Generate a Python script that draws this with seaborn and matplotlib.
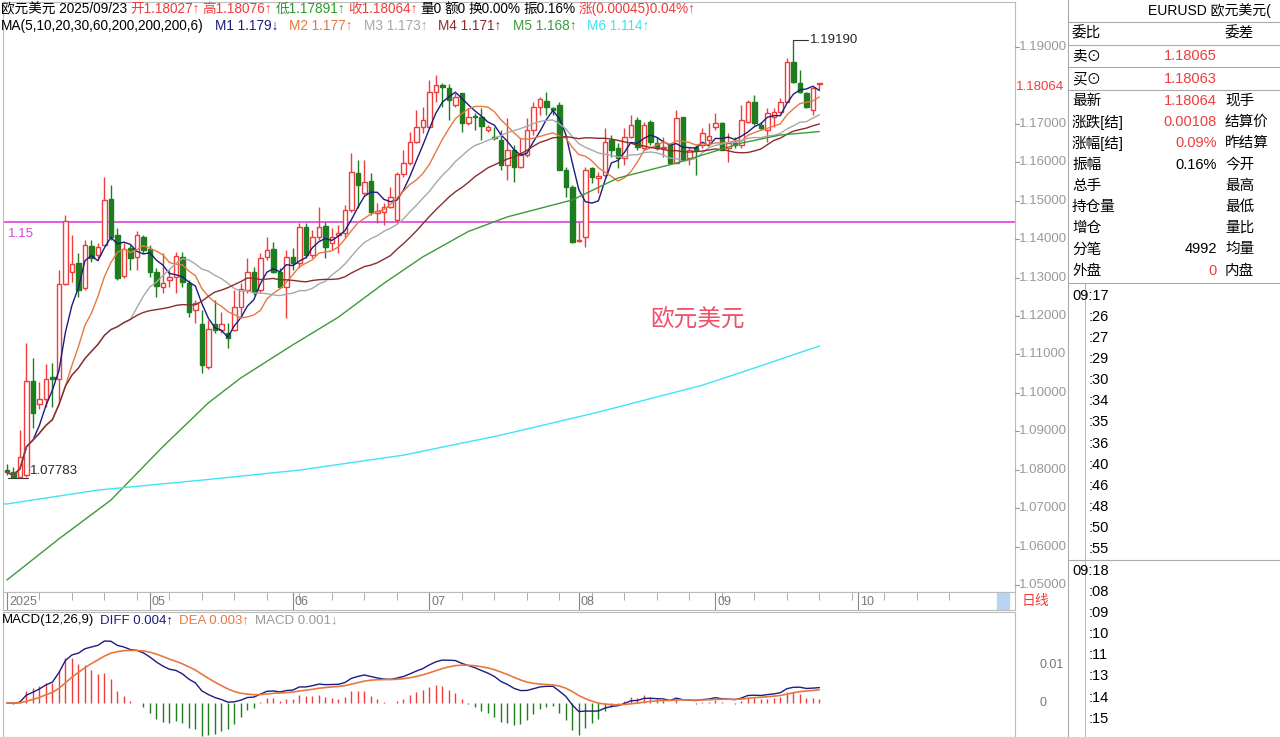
import numpy as np
import pandas as pd
import matplotlib
matplotlib.use("Agg")
import matplotlib.pyplot as plt
import seaborn as sns

sns.set_style("white")
plt.rcParams['font.family'] = ['Liberation Sans', 'Noto Sans CJK SC', 'DejaVu Sans']

# daily candles, 2025-04-01 .. 2025-09-23
opens = [1.0800, 1.0794, 1.0780, 1.0786, 1.1031, 1.0972, 1.0985, 1.1040, 1.1035, 1.1284,
         1.1315, 1.1338, 1.1273, 1.1382, 1.1359, 1.1385, 1.1504, 1.1411, 1.1304, 1.1377,
         1.1354, 1.1406, 1.1374, 1.1315, 1.1276, 1.1294, 1.1302, 1.1354, 1.1286, 1.1216,
         1.1179, 1.1067, 1.1180, 1.1164, 1.1155, 1.1164, 1.1223, 1.1268, 1.1315, 1.1268,
         1.1354, 1.1374, 1.1315, 1.1276, 1.1354, 1.1338, 1.1432, 1.1359, 1.1406, 1.1434,
         1.1390, 1.1411, 1.1416, 1.1476, 1.1572, 1.1520, 1.1551, 1.1469, 1.1471, 1.1484,
         1.1450, 1.1570, 1.1598, 1.1653, 1.1692, 1.1692, 1.1783, 1.1801, 1.1793, 1.1749,
         1.1780, 1.1702, 1.1720, 1.1718, 1.1684, 1.1665, 1.1658, 1.1593, 1.1632, 1.1588,
         1.1619, 1.1684, 1.1744, 1.1760, 1.1740, 1.1749, 1.1580, 1.1536, 1.1395, 1.1406,
         1.1585, 1.1560, 1.1567, 1.1658, 1.1637, 1.1611, 1.1666, 1.1710, 1.1637, 1.1705,
         1.1650, 1.1637, 1.1645, 1.1598, 1.1718, 1.1611, 1.1640, 1.1645, 1.1658, 1.1692,
         1.1702, 1.1637, 1.1650, 1.1645, 1.1705, 1.1757, 1.1697, 1.1684, 1.1718, 1.1731,
         1.1757, 1.1861, 1.1806, 1.1780, 1.1736, 1.18027]
closes = [1.0793, 1.0780, 1.0833, 1.1031, 1.0948, 1.0985, 1.1037, 1.1035, 1.1282, 1.1448,
          1.1335, 1.1268, 1.1385, 1.1351, 1.1380, 1.1502, 1.1406, 1.1299, 1.1374, 1.1351,
          1.1411, 1.1372, 1.1315, 1.1278, 1.1286, 1.1302, 1.1356, 1.1288, 1.1210, 1.1234,
          1.1073, 1.1166, 1.1164, 1.1178, 1.1143, 1.1223, 1.1270, 1.1315, 1.1262, 1.1351,
          1.1372, 1.1315, 1.1276, 1.1354, 1.1338, 1.1432, 1.1359, 1.1406, 1.1432, 1.1380,
          1.1406, 1.1416, 1.1476, 1.1575, 1.1541, 1.1549, 1.1471, 1.1473, 1.1484, 1.1510,
          1.1570, 1.1598, 1.1653, 1.1692, 1.1710, 1.1783, 1.1801, 1.1796, 1.1762, 1.1770,
          1.1702, 1.1718, 1.1718, 1.1694, 1.1692, 1.1662, 1.1593, 1.1632, 1.1588, 1.1619,
          1.1684, 1.1744, 1.1765, 1.1744, 1.1736, 1.1580, 1.1536, 1.1393, 1.1398, 1.1580,
          1.1562, 1.1565, 1.1653, 1.1632, 1.1611, 1.1666, 1.1697, 1.1640, 1.1697, 1.1653,
          1.1637, 1.1640, 1.1598, 1.1715, 1.1606, 1.1632, 1.1632, 1.1676, 1.1668, 1.1702,
          1.1632, 1.1650, 1.1645, 1.1710, 1.1757, 1.1702, 1.1689, 1.1728, 1.1731, 1.1757,
          1.1861, 1.1809, 1.1783, 1.1744, 1.1793, 1.18064]
highs = [1.0815, 1.0806, 1.0903, 1.1130, 1.1091, 1.1028, 1.1074, 1.1078, 1.1321, 1.1463,
         1.1411, 1.1364, 1.1398, 1.1398, 1.1390, 1.1562, 1.1541, 1.1429, 1.1390, 1.1385,
         1.1420, 1.1411, 1.1385, 1.1325, 1.1364, 1.1320, 1.1367, 1.1367, 1.1294, 1.1242,
         1.1216, 1.1190, 1.1242, 1.1211, 1.1182, 1.1268, 1.1286, 1.1351, 1.1328, 1.1364,
         1.1406, 1.1393, 1.1325, 1.1372, 1.1377, 1.1442, 1.1442, 1.1424, 1.1484, 1.1445,
         1.1429, 1.1437, 1.1489, 1.1624, 1.1606, 1.1606, 1.1572, 1.1494, 1.1494, 1.1536,
         1.1575, 1.1632, 1.1679, 1.1736, 1.1744, 1.1814, 1.1827, 1.1806, 1.1804, 1.1780,
         1.1780, 1.1741, 1.1728, 1.1741, 1.1697, 1.1692, 1.1684, 1.1715, 1.1645, 1.1663,
         1.1715, 1.1757, 1.1770, 1.1783, 1.1744, 1.1757, 1.1588, 1.1541, 1.1445, 1.1588,
         1.1588, 1.1575, 1.1689, 1.1671, 1.1650, 1.1689, 1.1723, 1.1718, 1.1705, 1.1710,
         1.1666, 1.1666, 1.1650, 1.1736, 1.1718, 1.1640, 1.1645, 1.1689, 1.1702, 1.1728,
         1.1705, 1.1676, 1.1666, 1.1749, 1.1762, 1.1775, 1.1705, 1.1741, 1.1741, 1.1767,
         1.1871, 1.19190, 1.1840, 1.1783, 1.1796, 1.18076]
lows = [1.0786, 1.07783, 1.0785, 1.0780, 1.0909, 1.0959, 1.0962, 1.0964, 1.0977, 1.1280,
        1.1288, 1.1249, 1.1268, 1.1341, 1.1350, 1.1385, 1.1398, 1.1294, 1.1299, 1.1320,
        1.1320, 1.1364, 1.1302, 1.1249, 1.1260, 1.1276, 1.1260, 1.1276, 1.1197, 1.1182,
        1.1052, 1.1062, 1.1156, 1.1156, 1.1117, 1.1160, 1.1197, 1.1260, 1.1255, 1.1260,
        1.1346, 1.1312, 1.1273, 1.1195, 1.1320, 1.1325, 1.1351, 1.1351, 1.1398, 1.1351,
        1.1372, 1.1364, 1.1403, 1.1471, 1.1481, 1.1515, 1.1463, 1.1442, 1.1437, 1.1481,
        1.1442, 1.1562, 1.1593, 1.1650, 1.1676, 1.1689, 1.1757, 1.1744, 1.1710, 1.1744,
        1.1679, 1.1697, 1.1684, 1.1658, 1.1679, 1.1658, 1.1580, 1.1554, 1.1549, 1.1585,
        1.1614, 1.1671, 1.1723, 1.1723, 1.1723, 1.1580, 1.1510, 1.1390, 1.1393, 1.1380,
        1.1546, 1.1520, 1.1562, 1.1614, 1.1585, 1.1593, 1.1663, 1.1632, 1.1632, 1.1645,
        1.1632, 1.1614, 1.1598, 1.1598, 1.1606, 1.1593, 1.1567, 1.1637, 1.1645, 1.1684,
        1.1632, 1.1601, 1.1637, 1.1637, 1.1702, 1.1697, 1.1684, 1.1653, 1.1692, 1.1728,
        1.1757, 1.1806, 1.1780, 1.1741, 1.1723, 1.17891]

# long moving averages at a few candles
ma60_idx = [0, 8, 16, 24, 31, 36, 44, 51, 58, 64, 71, 77, 87, 94, 103, 113, 119, 125]
ma60_val = [1.0513, 1.0620, 1.0721, 1.0860, 1.0974, 1.1039, 1.1125, 1.1197, 1.1285,
            1.1354, 1.1420, 1.1458, 1.1502, 1.1559, 1.1598, 1.1650, 1.1671, 1.1680]
ma200_idx = [0, 14, 30, 45, 61, 76, 91, 107, 114, 125]
ma200_val = [1.0711, 1.0747, 1.0773, 1.0799, 1.0838, 1.0890, 1.0950, 1.1020, 1.1059, 1.1122]

month_idx = [0, 22, 44, 65, 88, 109, 131]
month_labels = ['2025', '05', '06', '07', '08', '09', '10']
price_ticks = [1.19, 1.17, 1.16, 1.15, 1.14, 1.13, 1.12, 1.11, 1.10,
               1.09, 1.08, 1.07, 1.06, 1.05]

RED = '#f03c3c'
GREEN = '#1e7d1e'
MA_COLORS = ['#1c1c80', '#e87840', '#a8a8a8', '#8b2c2c', '#3c9a3c', '#40e4f4']

W, H = 1280, 737
fig = plt.figure(figsize=(12.8, 7.37), dpi=100)
renderer = fig.canvas.get_renderer()


def fx(x):
    return x / W


def fy(y):
    return 1 - y / H


def txt(x, y, s, color='black', size=9.5, ha='left', **kw):
    return fig.text(fx(x), fy(y), s, color=color, fontsize=size, ha=ha, va='center', **kw)


def txt_row(x, y, parts, size=9, gap=4):
    # write coloured pieces one after another
    for s, c in parts:
        t = txt(x, y, s, color=c, size=size)
        x += t.get_window_extent(renderer).width + gap


df = pd.DataFrame({'open': opens, 'close': closes, 'high': highs, 'low': lows})
df['idx'] = np.arange(len(df))
for n in [5, 10, 20, 30]:
    df[f'ma{n}'] = df['close'].rolling(n, min_periods=1).mean()

# ---------- price panel ----------
ax = fig.add_axes([fx(3), fy(592), fx(1012), (592 - 2) / H])
px_per = 3843.0
ax.set_ylim(1.19 - (592 - 47) / px_per, 1.19 + 45 / px_per)
ax.set_xlim(-0.6, 155.1)

up = df['close'] >= df['open']
ax.vlines(df['idx'], df['low'], df['high'], color=np.where(up, RED, GREEN), lw=1, zorder=2)
body_lo = df[['open', 'close']].min(axis=1)
body_h = (df['close'] - df['open']).abs().clip(lower=0.00012)
ax.bar(df['idx'][up], body_h[up], bottom=body_lo[up], width=0.68,
       facecolor='white', edgecolor=RED, lw=1, zorder=3)
ax.bar(df['idx'][~up], body_h[~up], bottom=body_lo[~up], width=0.68,
       facecolor=GREEN, edgecolor=GREEN, lw=1, zorder=3)

for n, c in zip([5, 10, 20, 30], MA_COLORS[:4]):
    sns.lineplot(data=df, x='idx', y=f'ma{n}', ax=ax, color=c, lw=1, zorder=4)
sns.lineplot(x=ma60_idx, y=ma60_val, ax=ax, color=MA_COLORS[4], lw=1, zorder=4)
sns.lineplot(x=[-0.6] + ma200_idx, y=[ma200_val[0]] + ma200_val, ax=ax,
             color=MA_COLORS[5], lw=1, zorder=4)

ax.axhline(1.1445, color='#e040e0', lw=1.2, zorder=1)
ax.text(0.2, 1.1430, '1.15', color='#e040e0', fontsize=9.5, va='top')

hi_i = int(np.argmax(highs))
ax.plot([hi_i, hi_i, hi_i + 2.2], [highs[hi_i], max(highs), max(highs)], color='#333', lw=0.8)
ax.text(hi_i + 2.6, max(highs), '1.19190', fontsize=9.5, va='center')
lo_i = int(np.argmin(lows))
ax.plot([lo_i - 0.8, lo_i + 2.2], [min(lows), min(lows)], color='#333', lw=0.8)
ax.text(lo_i + 2.6, min(lows) + 0.0002, '1.07783', fontsize=9.5, va='bottom')
ax.text(99, 1.1190, '欧元美元', color='#f0506a', fontsize=17, va='center',
        family=['Noto Sans CJK SC'])

ax.set_xticks([])
ax.set_yticks([])
ax.set_xlabel('')
ax.set_ylabel('')
for s in ax.spines.values():
    s.set_color('#bbbbbb')
    s.set_linewidth(0.8)

# right price scale
for p in price_ticks:
    y = 47 + (1.19 - p) * px_per
    fig.add_artist(plt.Line2D([fx(1015), fx(1019)], [fy(y), fy(y)], color='#999', lw=0.8))
    txt(1019, y, f'{p:.5f}', color='#999999', size=9.5)
txt(1016, 87, '1.18064', color=RED, size=9.5)

# ---------- date strip ----------
axd = fig.add_axes([fx(3), fy(610), fx(1012), 18 / H])
axd.set_xlim(-0.6, 155.1)
axd.set_ylim(0, 1)
axd.vlines(np.arange(0, 150, 5), 0.55, 1, color='#aaa', lw=0.7)
axd.vlines(month_idx, 0, 1, color='#888', lw=0.8)
for i, lab in zip(month_idx, month_labels):
    axd.text(i + 0.3, 0.45, lab, fontsize=9, color='#777', va='center')
axd.add_patch(plt.Rectangle((152.4, 0.05), 1.8, 0.9, color='#b8d4f0'))
axd.set_xticks([])
axd.set_yticks([])
for s in axd.spines.values():
    s.set_color('#bbbbbb')
txt(1022, 601, '日线', color=RED, size=10)

# ---------- MACD ----------
ema12 = df['close'].ewm(span=12, adjust=False).mean()
ema26 = df['close'].ewm(span=26, adjust=False).mean()
df['diff'] = ema12 - ema26
df['dea'] = df['diff'].ewm(span=9, adjust=False).mean()
df['hist'] = 2 * (df['diff'] - df['dea'])

axm = fig.add_axes([fx(3), 0, fx(1012), (737 - 612) / H])
axm.set_xlim(-0.6, 155.1)
axm.set_ylim(-(737 - 703) / 3800, (703 - 612) / 3800)
axm.vlines(df['idx'], 0, df['hist'], color=np.where(df['hist'] >= 0, RED, GREEN), lw=1)
sns.lineplot(data=df, x='idx', y='diff', ax=axm, color='#1c1c80', lw=1)
sns.lineplot(data=df, x='idx', y='dea', ax=axm, color='#e87840', lw=1.2)
axm.set_xticks([])
axm.set_yticks([])
axm.set_xlabel('')
axm.set_ylabel('')
for s in axm.spines.values():
    s.set_color('#bbbbbb')
txt(1040, 665, '0.01', color='#777', size=9)
txt(1040, 703, '0', color='#777', size=9)

txt_row(2, 620, [('MACD(12,26,9)', 'black'), ('DIFF 0.004↑', '#1c1c80'),
                 ('DEA 0.003↑', '#e87840'), ('MACD 0.001↓', '#999999')], size=9.5, gap=6)

# ---------- header ----------
txt_row(1, 9, [('欧元美元 2025/09/23', 'black'), ('开1.18027↑', RED), ('高1.18076↑', RED),
               ('低1.17891↑', '#2a9a2a'), ('收1.18064↑', RED), ('量0', 'black'),
               ('额0', 'black'), ('换0.00%', 'black'), ('振0.16%', 'black'),
               ('涨(0.00045)0.04%↑', RED)], size=9.8, gap=3)
txt_row(1, 26, [('MA(5,10,20,30,60,200,200,200,6)', 'black'), ('M1 1.179↓', MA_COLORS[0]),
                ('M2 1.177↑', MA_COLORS[1]), ('M3 1.173↑', MA_COLORS[2]),
                ('M4 1.171↑', MA_COLORS[3]), ('M5 1.168↑', MA_COLORS[4]),
                ('M6 1.114↑', MA_COLORS[5])], size=9.8, gap=11)

# ---------- right info panel ----------
for y in [22, 45, 67, 90, 283]:
    fig.add_artist(plt.Line2D([fx(1068), 1], [fy(y), fy(y)], color='#aaaaaa', lw=0.8))
fig.add_artist(plt.Line2D([fx(1068), fx(1068)], [fy(0), 0], color='#aaaaaa', lw=0.8))
fig.add_artist(plt.Line2D([fx(1085), fx(1085)], [fy(283), 0], color='#aaaaaa', lw=0.6))
txt(1148, 11, 'EURUSD 欧元美元(', size=10)
txt(1072, 33, '委比', size=10.5)
txt(1225, 33, '委差', size=10.5)
txt(1072, 56, '卖⊙', size=10.5)
txt(1217, 56, '1.18065', color=RED, size=10.5, ha='right')
txt(1072, 79, '买⊙', size=10.5)
txt(1217, 79, '1.18063', color=RED, size=10.5, ha='right')

left_labels = ['最新', '涨跌[结]', '涨幅[结]', '振幅', '总手', '持仓量', '增仓', '分笔', '外盘']
values = ['1.18064', '0.00108', '0.09%', '0.16%', '', '', '', '4992', '0']
value_colors = [RED, RED, RED, 'black', 'black', 'black', 'black', 'black', RED]
right_labels = ['现手', '结算价', '昨结算', '今开', '最高', '最低', '量比', '均量', '内盘']
for k in range(9):
    y = 101 + k * 21.2
    txt(1072, y, left_labels[k], size=10.5)
    txt(1217, y, values[k], color=value_colors[k], size=10.5, ha='right')
    txt(1225, y, right_labels[k], size=10.5)

ticks_a = [':26', ':27', ':29', ':30', ':34', ':35', ':36', ':40', ':46', ':48', ':50', ':55']
ticks_b = [':08', ':09', ':10', ':11', ':13', ':14', ':15']
txt(1072, 296, '09:17', size=10.5)
for k, s in enumerate(ticks_a):
    txt(1089, 317 + k * 21.1, s, size=10.5)
fig.add_artist(plt.Line2D([fx(1068), 1], [fy(560), fy(560)], color='#aaaaaa', lw=0.8))
txt(1072, 571, '09:18', size=10.5)
for k, s in enumerate(ticks_b):
    txt(1089, 592 + k * 21.1, s, size=10.5)

fig.savefig('out.png', dpi=100)
